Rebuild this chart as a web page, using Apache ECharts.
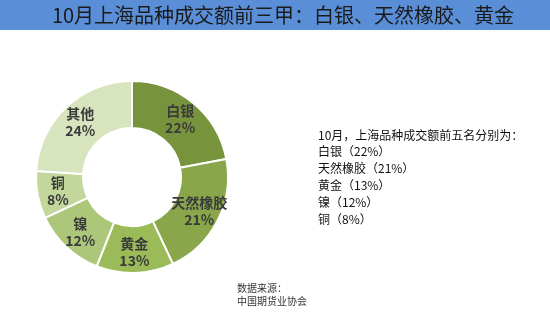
<!DOCTYPE html>
<html><head><meta charset="utf-8">
<script src="https://cdn.jsdelivr.net/npm/echarts@6/dist/echarts.min.js"></script>
<style>html,body{margin:0;padding:0;background:#fff}#c{width:550px;height:322px}</style>
</head><body><div id="c"></div>
<script>
const categories = ['白银','天然橡胶','黄金','镍','铜','其他'];
const values = [22,21,13,12,8,24];
const colors = ['#77933C','#89A74A','#9BBB59','#ADC77A','#C3D69B','#D7E4BD'];
const titleText = '10月上海品种成交额前三甲：白银、天然橡胶、黄金';
const noteLines = ['10月，上海品种成交额前五名分别为：','白银（22%）','天然橡胶（21%）','黄金（13%）','镍（12%）','铜（8%）'];
const sourceLines = ['数据来源：','中国期货业协会'];
const FONT = '"Noto Sans CJK SC","Microsoft YaHei",sans-serif';
const chart = echarts.init(document.getElementById('c'));
const graphics = [
  {type:'rect', shape:{x:0,y:0,width:550,height:30}, style:{fill:'#5A8FD8'}},
  {type:'text', x:283, y:15, style:{text:titleText, font:'20px '+FONT, fill:'#1a1a1a', align:'center', verticalAlign:'middle'}}
];
noteLines.forEach((t,i)=>graphics.push({type:'text', x:318, y:135+i*16.8, style:{text:t, font:'12px '+FONT, fill:'#111', verticalAlign:'middle'}}));
sourceLines.forEach((t,i)=>graphics.push({type:'text', x:237, y:288+i*13, style:{text:t, font:'10px '+FONT, fill:'#333', verticalAlign:'middle'}}));
chart.setOption({
  animation:false,
  color: colors,
  graphic: graphics,
  series:[{
    type:'pie',
    center:[132,177],
    radius:[49,96],
    startAngle:90,
    clockwise:true,
    itemStyle:{borderColor:'#fff', borderWidth:2},
    label:{position:'inside', formatter:'{b}\n{d}%', fontSize:14, fontWeight:'bold', color:'#3a3a3a', lineHeight:17, fontFamily:FONT},
    labelLine:{show:false},
    data: categories.map((n,i)=>({name:n, value:values[i]}))
  }]
});
</script></body></html>
